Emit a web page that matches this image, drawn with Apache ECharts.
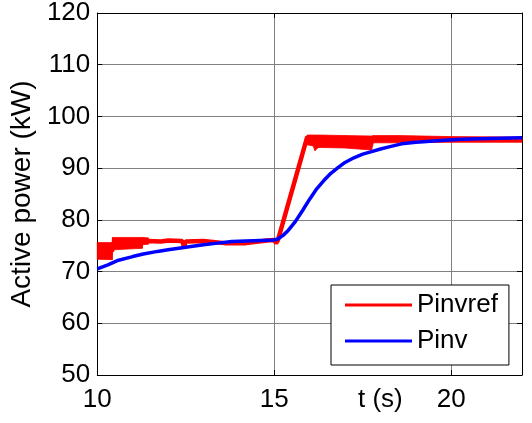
<!DOCTYPE html>
<html>
<head>
<meta charset="utf-8">
<script src="https://cdn.jsdelivr.net/npm/echarts@6/dist/echarts.min.js"></script>
<style>html,body{margin:0;padding:0;background:#fff;}#c{width:532px;height:423px;}</style>
</head>
<body>
<div id="c"></div>
<script>
// Pinvref (red) centre trace: time (s), active power (kW)
const pinvrefT = [10.00,10.42,10.45,11.27,11.40,11.80,12.00,12.40,12.45,12.50,13.00,13.60,14.20,14.80,15.00,15.05,15.10,15.93,16.50,17.50,17.80,19.00,20.00,22.00];
const pinvrefV = [74.0,74.0,75.4,75.6,75.9,75.8,76.0,75.9,74.8,75.8,75.9,75.5,75.5,76.0,76.1,75.5,76.0,96.0,95.3,95.0,95.6,95.5,95.6,95.5];

// Pinvref ripple band (outer edges of the red band), start of run
const band1T  = [10.00,10.42,10.43,11.27,11.28,11.45];
const band1Lo = [72.4, 72.3, 74.2, 74.5, 75.2, 75.3];
const band1Hi = [75.6, 75.6, 76.6, 76.6, 76.6, 76.5];

// Pinvref ripple band after the step
const band2T  = [15.93,16.10,16.15,16.25,17.00,17.75,17.80,18.50,20.00,22.00];
const band2Lo = [94.5, 94.3, 93.4, 94.0, 93.9, 93.5, 94.9, 94.9, 95.0, 95.0];
const band2Hi = [96.4, 96.4, 96.4, 96.4, 96.3, 96.2, 96.3, 96.3, 96.1, 96.0];

// Pinv (blue)
const pinvT = [10.0,10.3,10.6,11.0,11.3,11.7,12.0,12.4,12.7,13.0,13.4,13.8,14.2,14.6,15.0,15.1,15.25,15.4,15.6,15.8,
  16.0,16.2,16.4,16.6,16.8,17.0,17.25,17.5,17.75,18.0,18.3,18.6,19.0,19.4,19.8,20.3,20.8,21.4,22.0];
const pinvV = [70.5,71.3,72.2,72.9,73.4,73.9,74.2,74.6,74.9,75.2,75.5,75.8,75.9,76.0,76.1,76.3,77.0,78.0,79.7,81.8,
  84.0,86.0,87.6,89.0,90.1,91.1,92.0,92.7,93.2,93.7,94.2,94.7,95.0,95.2,95.4,95.6,95.7,95.8,95.9];

const seriesNames = ['Pinvref', 'Pinv'];
const yAxisName = 'Active power (kW)';
const xAxisName = 't (s)';

const FONT = 'Liberation Sans';
const RED = '#ff0000', BLUE = '#0000ff';
const chart = echarts.init(document.getElementById('c'), null, {renderer: 'canvas'});

function bandSeries(id, T, Lo, Hi) {
  const rows = T.map((t, i) => [t, Lo[i], Hi[i]]);
  return {
    id: id, name: id, type: 'custom', silent: true, z: 2,
    xAxisIndex: 0, yAxisIndex: 0,
    encode: {x: 0, y: [1, 2]},
    data: rows,
    renderItem: function (params, api) {
      const i = params.dataIndex;
      if (i >= rows.length - 1) return null;
      const a = rows[i], b = rows[i + 1];
      const pts = [api.coord([a[0], a[1]]), api.coord([b[0], b[1]]), api.coord([b[0], b[2]]), api.coord([a[0], a[2]])];
      return {type: 'polygon', shape: {points: pts}, style: {fill: RED, stroke: RED, lineWidth: 0.8}};
    }
  };
}

chart.setOption({
  animation: false,
  backgroundColor: '#fff',
  grid: {left: 93, top: 11, right: 10, bottom: 48, containLabel: false},
  legend: {
    data: seriesNames,
    left: 331, top: 285,
    orient: 'vertical',
    icon: 'rect',
    itemWidth: 67, itemHeight: 3,
    itemGap: 10, itemTextGap: 8,
    padding: [7, 11, 11, 14],
    backgroundColor: '#fff',
    borderColor: '#000', borderWidth: 1, borderRadius: 0,
    textStyle: {fontFamily: FONT, fontSize: 26, color: '#000', lineHeight: 26}
  },
  xAxis: [{
    type: 'value', min: 10, max: 22, interval: 5, position: 'bottom',
    axisLine: {show: true, onZero: false, lineStyle: {color: '#000', width: 1}},
    axisTick: {show: true, inside: true, length: 5, lineStyle: {color: '#000'}},
    axisLabel: {fontFamily: FONT, fontSize: 26, color: '#000', margin: 12, showMaxLabel: false},
    splitLine: {show: true, lineStyle: {color: '#808080', width: 1}}
  }, {
    type: 'value', min: 10, max: 22, interval: 5, position: 'top',
    axisLine: {show: true, onZero: false, lineStyle: {color: '#000', width: 1}},
    axisTick: {show: true, inside: true, length: 5, lineStyle: {color: '#000'}},
    axisLabel: {show: false}, splitLine: {show: false}
  }],
  yAxis: [{
    type: 'value', min: 50, max: 120, interval: 10, position: 'left',
    name: yAxisName, nameLocation: 'middle', nameRotate: 90, nameGap: 51,
    nameTextStyle: {fontFamily: FONT, fontSize: 28, color: '#000'},
    axisLine: {show: true, onZero: false, lineStyle: {color: '#000', width: 1}},
    axisTick: {show: true, inside: true, length: 5, lineStyle: {color: '#000'}},
    axisLabel: {fontFamily: FONT, fontSize: 26, color: '#000', margin: 7},
    splitLine: {show: true, lineStyle: {color: '#808080', width: 1}}
  }, {
    type: 'value', min: 50, max: 120, interval: 10, position: 'right',
    axisLine: {show: true, onZero: false, lineStyle: {color: '#000', width: 1}},
    axisTick: {show: true, inside: true, length: 5, lineStyle: {color: '#000'}},
    axisLabel: {show: false}, splitLine: {show: false}
  }],
  series: [{
    name: seriesNames[0], type: 'line', showSymbol: false, symbol: 'none', z: 3,
    color: RED,
    lineStyle: {color: RED, width: 4.5},
    data: pinvrefT.map((t, i) => [t, pinvrefV[i]])
  },
  bandSeries('band1', band1T, band1Lo, band1Hi),
  bandSeries('band2', band2T, band2Lo, band2Hi),
  {
    name: seriesNames[1], type: 'line', showSymbol: false, symbol: 'none', z: 4,
    color: BLUE,
    lineStyle: {color: BLUE, width: 3.5},
    data: pinvT.map((t, i) => [t, pinvV[i]])
  }],
  graphic: [{
    type: 'text', left: 358, top: 387,
    style: {text: xAxisName, fontFamily: FONT, fontSize: 26, fill: '#000'}
  }]
});
</script>
</body>
</html>
